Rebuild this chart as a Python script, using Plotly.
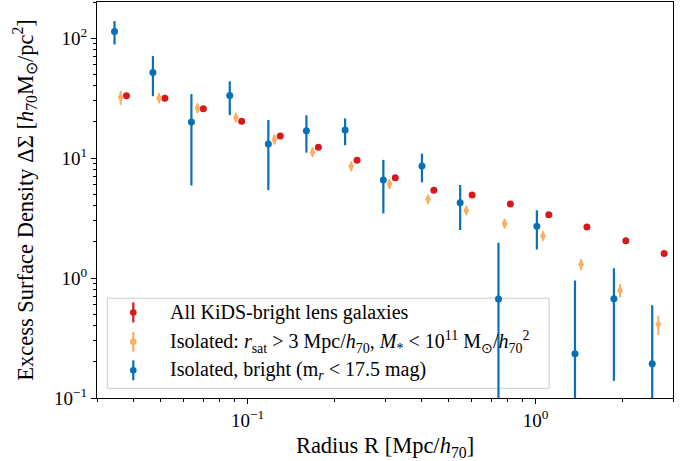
import plotly.graph_objects as go

# radial bins [Mpc/h70]
r_bin = [0.0345, 0.0469, 0.0638, 0.0867, 0.118, 0.160, 0.218, 0.296,
         0.403, 0.547, 0.743, 1.01, 1.37, 1.87, 2.54]

# All KiDS-bright lens galaxies
ds_all = [33.0, 31.6, 25.8, 20.3, 15.3, 12.3, 9.57, 6.86, 5.38, 4.92,
          4.14, 3.37, 2.66, 2.05, 1.60]
err_all = [0.8, 0.6, 0.5, 0.4, 0.3, 0.25, 0.2, 0.15, 0.12, 0.1,
           0.08, 0.07, 0.06, 0.05, 0.04]

# Isolated sample
ds_iso = [32.1, 31.6, 26.1, 21.7, 14.3, 11.2, 8.53, 6.07, 4.53, 3.66,
          2.84, 2.24, 1.30, 0.789, 0.411]
err_iso = [4.4, 3.0, 2.4, 1.7, 1.3, 0.9, 0.75, 0.55, 0.38, 0.3,
           0.25, 0.2, 0.14, 0.1, 0.075]

# Isolated, bright
ds_bright = [113.6, 51.8, 20.0, 33.2, 13.1, 16.9, 17.1, 6.56, 8.58, 4.24,
             0.668, 2.70, 0.234, 0.672, 0.193]
err_bright = [25.0, 19.0, 14.1, 10.4, 7.7, 5.8, 4.3, 3.1, 2.3, 1.73,
              1.30, 0.97, 0.72, 0.533, 0.40]

x_tickvals = [0.1, 1]
x_ticktext = ["10<sup>−1</sup>", "10<sup>0</sup>"]
y_tickvals = [0.1, 1, 10, 100]
y_ticktext = ["10<sup>−1</sup>", "10<sup>0</sup>", "10<sup>1</sup>", "10<sup>2</sup>"]

labels = [
    "All KiDS-bright lens galaxies",
    "Isolated: <i>r</i><sub>sat</sub> &gt; 3 Mpc/<i>h</i><sub>70</sub>, "
    "<i>M</i><sub>*</sub> &lt; 10<sup>11</sup> M<sub>⊙</sub>/<i>h</i><sub>70</sub><sup>2</sup>",
    "Isolated, bright (m<sub><i>r</i></sub> &lt; 17.5 mag)",
]

RED = "#d7191c"
ORANGE = "#fdae61"
BLUE = "#0a70b4"
FONT = "Liberation Serif"

fig = go.Figure()

# hand-made legend box (errorbar style icons), drawn under the data
fig.add_shape(type="rect", xref="paper", yref="paper",
              x0=0.018, x1=0.785, y0=0.0245, y1=0.252,
              line=dict(color="#cccccc", width=1), fillcolor="rgba(255,255,255,0.8)",
              layer="below")

# small horizontal offsets so the points don't overlap
fig.add_trace(go.Scatter(
    x=[r * 1.10 for r in r_bin], y=ds_all, mode="markers",
    marker=dict(color=RED, size=7, symbol="circle"),
    error_y=dict(type="data", array=err_all, color=RED, thickness=2, width=0),
    showlegend=False))
fig.add_trace(go.Scatter(
    x=[r * 1.05 for r in r_bin], y=ds_iso, mode="markers",
    marker=dict(color=ORANGE, size=8, symbol="diamond-tall"),
    error_y=dict(type="data", array=err_iso, color=ORANGE, thickness=2, width=0),
    showlegend=False))
fig.add_trace(go.Scatter(
    x=r_bin, y=ds_bright, mode="markers",
    marker=dict(color=BLUE, size=7, symbol="circle"),
    error_y=dict(type="data", array=err_bright, color=BLUE, thickness=2.2, width=0),
    showlegend=False))

rows = [0.216, 0.142, 0.070]
for col, yy, txt in zip([RED, ORANGE, BLUE], rows, labels):
    fig.add_shape(type="line", xref="paper", yref="paper", ysizemode="pixel",
                  yanchor=yy, x0=0.063, x1=0.063, y0=-10, y1=10,
                  line=dict(color=col, width=2.2), layer="above")
    fig.add_shape(type="circle", xref="paper", yref="paper",
                  xsizemode="pixel", ysizemode="pixel", xanchor=0.063, yanchor=yy,
                  x0=-3.3, x1=3.3, y0=-3.3, y1=3.3,
                  fillcolor=col, line=dict(width=0), layer="above")
    fig.add_annotation(x=0.124, y=yy, xref="paper", yref="paper",
                       xanchor="left", yanchor="middle", showarrow=False,
                       text=txt, font=dict(family=FONT, size=20, color="black"))

axis_common = dict(
    type="log", showgrid=False, zeroline=False, automargin=False,
    showline=True, mirror=True, linecolor="black", linewidth=1,
    ticks="outside", ticklen=5, tickwidth=1, tickcolor="black",
    tickfont=dict(family=FONT, size=19, color="black"),
    minor=dict(ticks="outside", ticklen=3, tickwidth=0.8, tickcolor="black",
               showgrid=False, dtick="D1"),
)

fig.update_xaxes(**axis_common, range=[-1.523, 0.477],
                 tickvals=x_tickvals, ticktext=x_ticktext,
                 title=dict(text="Radius R [Mpc/<i>h</i><sub>70</sub>]",
                            font=dict(family=FONT, size=22.5, color="black"), standoff=10))
fig.update_yaxes(**axis_common, range=[-1, 2.301],
                 tickvals=y_tickvals, ticktext=y_ticktext,
                 title=dict(text="Excess Surface Density ΔΣ [<i>h</i><sub>70</sub>M<sub>⊙</sub>/pc<sup>2</sup>]",
                            font=dict(family=FONT, size=22.5, color="black"), standoff=14))

fig.update_layout(
    width=691, height=461,
    margin=dict(l=97, r=18, t=2, b=63),
    paper_bgcolor="white", plot_bgcolor="white",
    font=dict(family=FONT, color="black"),
)

# drop the page's default body margin so the figure sits at the top-left corner
fig.write_html("out.html", config={"displayModeBar": False},
               post_script="document.body.style.margin = '0';")
